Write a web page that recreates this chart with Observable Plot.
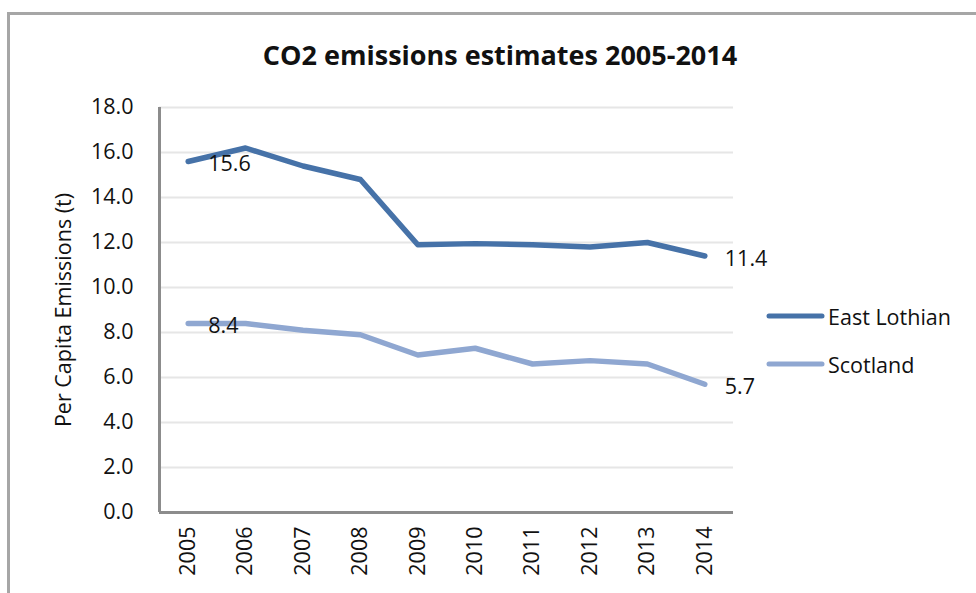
<!DOCTYPE html>
<html>
<head>
<meta charset="utf-8">
<script src="https://cdn.jsdelivr.net/npm/d3@7"></script>
<script src="https://cdn.jsdelivr.net/npm/@observablehq/plot@0.6"></script>
<style>
  html, body { margin: 0; padding: 0; background: #fff; }
  #wrap { position: relative; width: 976px; height: 593px; overflow: hidden; font-family: "Open Sans", sans-serif; }
  #frame { position: absolute; left: 7px; top: 12px; width: 1000px; height: 700px; border-left: 3px solid #a6a6a6; border-top: 3px solid #a6a6a6; box-sizing: border-box; }
  #title { position: absolute; left: 0; width: 1000px; top: 36px; text-align: center; font-weight: bold; font-size: 27px; color: #111; }
  #chart { position: absolute; left: 0; top: 0; }
  #legend { position: absolute; left: 766px; top: 292px; font-size: 21.5px; color: #111; }
  .item { display: flex; align-items: center; height: 48px; }
  .item svg { margin-right: 2px; }
</style>
</head>
<body>
<div id="wrap">
  <div id="frame"></div>
  <div id="title">CO2 emissions estimates 2005-2014</div>
  <div id="chart"></div>
  <div id="legend"></div>
</div>
<script>
const years = [2005, 2006, 2007, 2008, 2009, 2010, 2011, 2012, 2013, 2014];
const eastLothian = [15.6, 16.2, 15.4, 14.8, 11.9, 11.95, 11.9, 11.8, 12.0, 11.4];
const scotland = [8.4, 8.4, 8.1, 7.9, 7.0, 7.3, 6.6, 6.75, 6.6, 5.7];
const seriesNames = ["East Lothian", "Scotland"];
const seriesColors = ["#4672a8", "#8fa7d1"];
const yTicks = [0, 2, 4, 6, 8, 10, 12, 14, 16, 18];
const yLabel = "Per Capita Emissions (t)";

const data = [];
years.forEach((yr, i) => {
  data.push({year: yr, value: eastLothian[i], series: seriesNames[0]});
  data.push({year: yr, value: scotland[i], series: seriesNames[1]});
});
const labelled = data.filter(d => d.year === years[0] || d.year === years[years.length - 1]);
const xDomain = [years[0] - 0.5, years[years.length - 1] + 0.5];

const chart = Plot.plot({
  width: 976,
  height: 593,
  marginLeft: 159,
  marginRight: 243,
  marginTop: 107,
  marginBottom: 81,
  style: {fontFamily: "Open Sans, sans-serif", fontSize: "21.5px", color: "#111", background: "transparent"},
  x: {domain: xDomain, ticks: years, tickFormat: d => String(d), tickSize: 0, tickPadding: 14, tickRotate: -90, label: null},
  y: {domain: [0, 18], ticks: yTicks, tickFormat: d3.format(".1f"), tickSize: 0, tickPadding: 26,
      label: yLabel, labelAnchor: "center", labelArrow: "none", labelOffset: 104},
  color: {domain: seriesNames, range: seriesColors},
  marks: [
    Plot.ruleY(yTicks.slice(1), {stroke: "#e6e6e6", strokeWidth: 2}),
    Plot.ruleY([0], {stroke: "#8c8c8c", strokeWidth: 3}),
    Plot.ruleX([xDomain[0]], {stroke: "#8c8c8c", strokeWidth: 3}),
    Plot.line(data, {x: "year", y: "value", stroke: "series", strokeWidth: 5.5, strokeLinejoin: "round", strokeLinecap: "round"}),
    Plot.text(labelled, {x: "year", y: "value", text: d => d3.format(".1f")(d.value), textAnchor: "start", dx: 20, dy: 3, fill: "#111", fontSize: 21.5})
  ]
});
document.getElementById("chart").appendChild(chart);

const legend = document.getElementById("legend");
seriesNames.forEach((name, i) => {
  const item = document.createElement("div");
  item.className = "item";
  item.innerHTML = `<svg width="60" height="10"><line x1="3" y1="5" x2="56" y2="5" stroke="${seriesColors[i]}" stroke-width="5" stroke-linecap="round"/></svg><span>${name}</span>`;
  legend.appendChild(item);
});
</script>
</body>
</html>
